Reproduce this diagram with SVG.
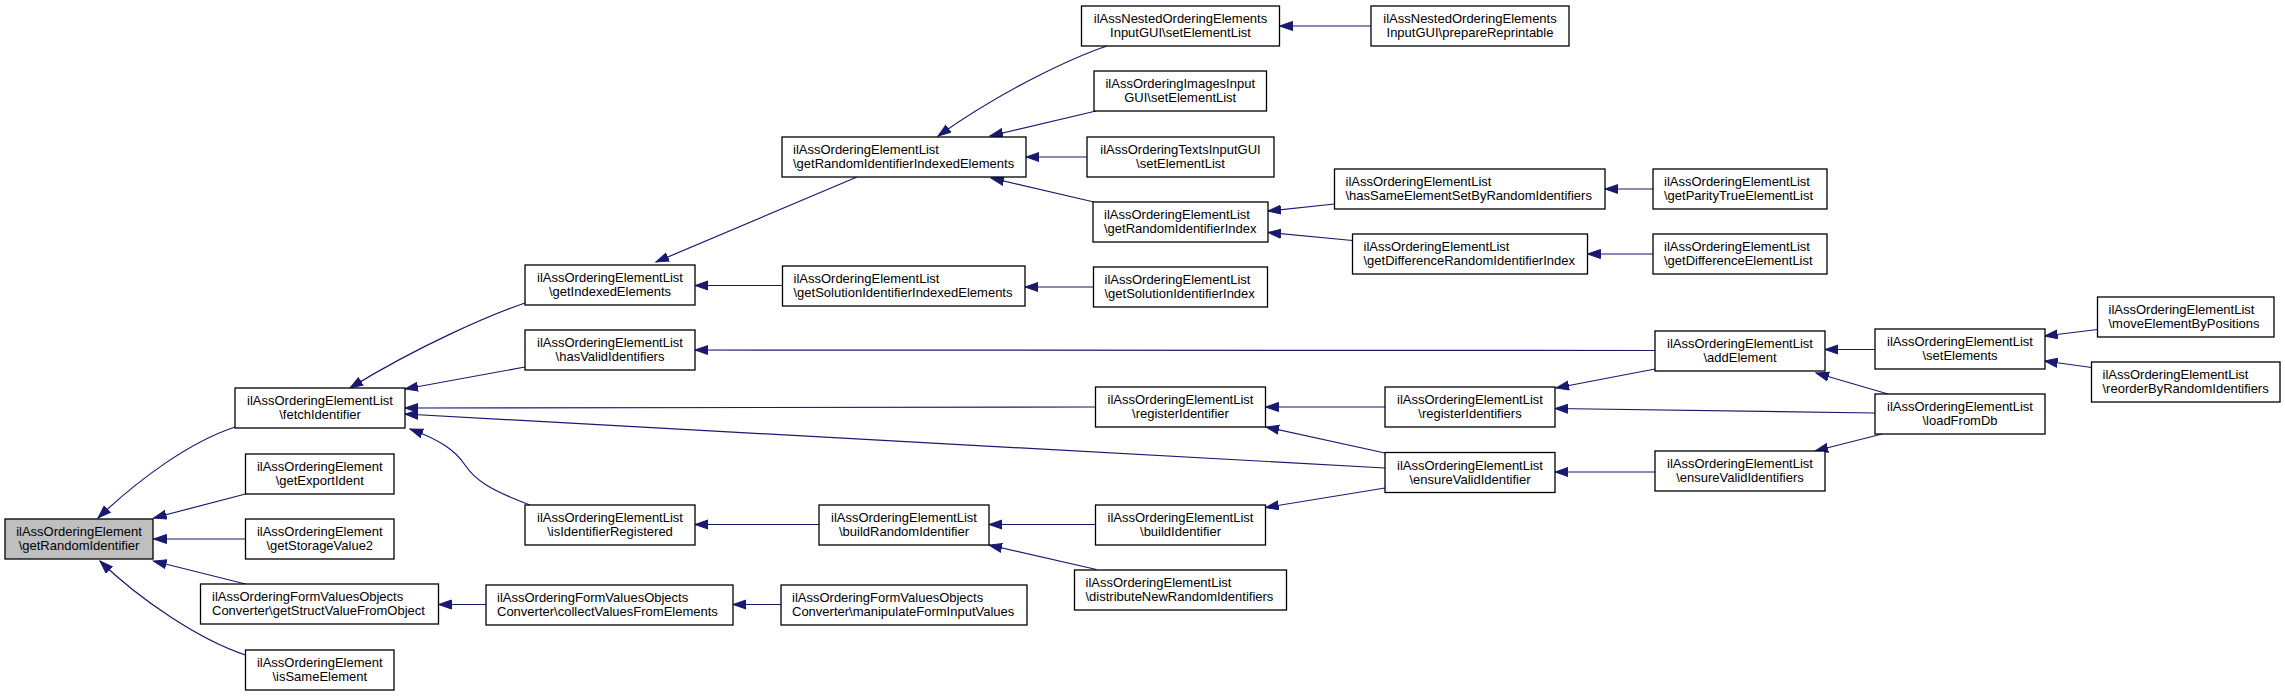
<svg xmlns="http://www.w3.org/2000/svg" width="2285" height="696" viewBox="0 0 2285 696">
<style>
.n rect{fill:#ffffff;stroke:#000000;stroke-width:1.3}
.n.sel rect{fill:#bfbfbf}
.n text{font-family:"Liberation Sans",Arial,sans-serif;font-size:13px;fill:#000000}
.c text{text-anchor:middle}
.l text{text-anchor:start}
#edges path{fill:none;stroke:#191970;stroke-width:1.2;marker-end:url(#a)}
</style>
<defs>
<marker id="a" markerWidth="15" markerHeight="11" refX="13" refY="5" orient="auto" markerUnits="userSpaceOnUse">
<path d="M0,0.5 L13,5 L0,9.5 z" fill="#191970" stroke="#191970" stroke-width="1"/>
</marker>
</defs>
<rect x="0" y="0" width="2285" height="696" fill="#ffffff"/>
<g id="edges">
<path d="M235,427 C190,442 140,478 98,518"/>
<path d="M245.5,494 L153.5,518"/>
<path d="M245.5,539 L153.5,539"/>
<path d="M245.5,584 L153.5,561"/>
<path d="M245.5,655 C200,640 140,600 100,561"/>
<path d="M525,303 C490,315 420,345 350,388"/>
<path d="M525,367 L405,389"/>
<path d="M1095.5,407 L405,408"/>
<path d="M1385,468 L405,414"/>
<path d="M530,505 C490,490 475,480 465,465 C455,450 440,440 410,429"/>
<path d="M857,177 L656,262"/>
<path d="M782.5,285.5 L695,285.5"/>
<path d="M1655,350.5 L695,350"/>
<path d="M1107,46 C1080,55 1010,85 938,136"/>
<path d="M1096,111 L990,136"/>
<path d="M1087,157 L1026,157"/>
<path d="M1094,202 L991,178"/>
<path d="M1093.5,287 L1025,287"/>
<path d="M1371,26 L1279.5,26"/>
<path d="M1334.5,204 L1268,211"/>
<path d="M1352.5,240.5 L1268,232.5"/>
<path d="M1653,189 L1605,189"/>
<path d="M1653,254 L1587.5,254"/>
<path d="M819,524.5 L695,524.5"/>
<path d="M1095.5,524.5 L989,524.5"/>
<path d="M1096.5,569.5 L989,545"/>
<path d="M1385,488 L1265.5,507.5"/>
<path d="M1385,453 L1266,427"/>
<path d="M1385,407 L1265.5,407"/>
<path d="M781,604.5 L733,604.5"/>
<path d="M486,604.5 L438.5,604.5"/>
<path d="M1655,369 L1556,388"/>
<path d="M1875,413 L1555,408.5"/>
<path d="M1655,472 L1555,472"/>
<path d="M1882,434 L1815,451"/>
<path d="M1875,349.5 L1825,349.5"/>
<path d="M1888,394 L1816,373"/>
<path d="M2097.5,329.5 L2044.5,336"/>
<path d="M2091.5,367.5 L2044.5,361"/>
</g>
<g id="n1" class="n c sel"><rect x="5" y="519" width="148" height="40"/><text x="79" y="536">ilAssOrderingElement</text><text x="79" y="550">\getRandomIdentifier</text></g>
<g id="n2" class="n c"><rect x="235" y="388" width="170" height="40"/><text x="320" y="405">ilAssOrderingElementList</text><text x="320" y="419">\fetchIdentifier</text></g>
<g id="n3" class="n c"><rect x="245.5" y="454" width="148.5" height="40"/><text x="319.75" y="471">ilAssOrderingElement</text><text x="319.75" y="485">\getExportIdent</text></g>
<g id="n4" class="n c"><rect x="245.5" y="519" width="148.5" height="40"/><text x="319.75" y="536">ilAssOrderingElement</text><text x="319.75" y="550">\getStorageValue2</text></g>
<g id="n5" class="n l"><rect x="200.5" y="584" width="238" height="40"/><text x="212" y="601">ilAssOrderingFormValuesObjects</text><text x="212" y="615">Converter\getStructValueFromObject</text></g>
<g id="n6" class="n c"><rect x="245.5" y="650" width="148.5" height="40"/><text x="319.75" y="667">ilAssOrderingElement</text><text x="319.75" y="681">\isSameElement</text></g>
<g id="n7" class="n c"><rect x="525" y="265" width="170" height="40"/><text x="610" y="282">ilAssOrderingElementList</text><text x="610" y="296">\getIndexedElements</text></g>
<g id="n8" class="n c"><rect x="525" y="330" width="170" height="40"/><text x="610" y="347">ilAssOrderingElementList</text><text x="610" y="361">\hasValidIdentifiers</text></g>
<g id="n9" class="n c"><rect x="525" y="505" width="170" height="40"/><text x="610" y="522">ilAssOrderingElementList</text><text x="610" y="536">\isIdentifierRegistered</text></g>
<g id="n10" class="n l"><rect x="486" y="585" width="247" height="40"/><text x="497" y="602">ilAssOrderingFormValuesObjects</text><text x="497" y="616">Converter\collectValuesFromElements</text></g>
<g id="n11" class="n l"><rect x="782" y="137" width="244" height="40"/><text x="793" y="154">ilAssOrderingElementList</text><text x="793" y="168">\getRandomIdentifierIndexedElements</text></g>
<g id="n12" class="n l"><rect x="782.5" y="266" width="242.5" height="40"/><text x="793.5" y="283">ilAssOrderingElementList</text><text x="793.5" y="297">\getSolutionIdentifierIndexedElements</text></g>
<g id="n13" class="n c"><rect x="819" y="505" width="170" height="40"/><text x="904" y="522">ilAssOrderingElementList</text><text x="904" y="536">\buildRandomIdentifier</text></g>
<g id="n14" class="n l"><rect x="781" y="585" width="246" height="40"/><text x="792" y="602">ilAssOrderingFormValuesObjects</text><text x="792" y="616">Converter\manipulateFormInputValues</text></g>
<g id="n15" class="n c"><rect x="1081.5" y="6" width="198" height="40"/><text x="1180.5" y="23">ilAssNestedOrderingElements</text><text x="1180.5" y="37">InputGUI\setElementList</text></g>
<g id="n16" class="n c"><rect x="1094" y="71" width="172.5" height="40"/><text x="1180.25" y="88">ilAssOrderingImagesInput</text><text x="1180.25" y="102">GUI\setElementList</text></g>
<g id="n17" class="n c"><rect x="1087" y="137" width="187" height="40"/><text x="1180.5" y="154">ilAssOrderingTextsInputGUI</text><text x="1180.5" y="168">\setElementList</text></g>
<g id="n18" class="n l"><rect x="1093" y="202" width="175" height="40"/><text x="1104" y="219">ilAssOrderingElementList</text><text x="1104" y="233">\getRandomIdentifierIndex</text></g>
<g id="n19" class="n l"><rect x="1093.5" y="267" width="174" height="40"/><text x="1104.5" y="284">ilAssOrderingElementList</text><text x="1104.5" y="298">\getSolutionIdentifierIndex</text></g>
<g id="n20" class="n c"><rect x="1095.5" y="387" width="170" height="40"/><text x="1180.5" y="404">ilAssOrderingElementList</text><text x="1180.5" y="418">\registerIdentifier</text></g>
<g id="n21" class="n c"><rect x="1095.5" y="505" width="170" height="40"/><text x="1180.5" y="522">ilAssOrderingElementList</text><text x="1180.5" y="536">\buildIdentifier</text></g>
<g id="n22" class="n l"><rect x="1074.5" y="570" width="212" height="40"/><text x="1085.5" y="587">ilAssOrderingElementList</text><text x="1085.5" y="601">\distributeNewRandomIdentifiers</text></g>
<g id="n23" class="n c"><rect x="1371" y="6" width="198" height="40"/><text x="1470" y="23">ilAssNestedOrderingElements</text><text x="1470" y="37">InputGUI\prepareReprintable</text></g>
<g id="n24" class="n l"><rect x="1334.5" y="169" width="270.5" height="40"/><text x="1345.5" y="186">ilAssOrderingElementList</text><text x="1345.5" y="200">\hasSameElementSetByRandomIdentifiers</text></g>
<g id="n25" class="n l"><rect x="1352.5" y="234" width="235" height="40"/><text x="1363.5" y="251">ilAssOrderingElementList</text><text x="1363.5" y="265">\getDifferenceRandomIdentifierIndex</text></g>
<g id="n26" class="n c"><rect x="1385" y="387" width="170" height="40"/><text x="1470" y="404">ilAssOrderingElementList</text><text x="1470" y="418">\registerIdentifiers</text></g>
<g id="n27" class="n c"><rect x="1385" y="452.5" width="170" height="40"/><text x="1470" y="469.5">ilAssOrderingElementList</text><text x="1470" y="483.5">\ensureValidIdentifier</text></g>
<g id="n28" class="n c"><rect x="1655" y="331" width="170" height="40"/><text x="1740" y="348">ilAssOrderingElementList</text><text x="1740" y="362">\addElement</text></g>
<g id="n29" class="n c"><rect x="1655" y="451" width="170" height="40"/><text x="1740" y="468">ilAssOrderingElementList</text><text x="1740" y="482">\ensureValidIdentifiers</text></g>
<g id="n30" class="n l"><rect x="1653" y="169" width="174" height="40"/><text x="1664" y="186">ilAssOrderingElementList</text><text x="1664" y="200">\getParityTrueElementList</text></g>
<g id="n31" class="n l"><rect x="1653" y="234" width="174" height="40"/><text x="1664" y="251">ilAssOrderingElementList</text><text x="1664" y="265">\getDifferenceElementList</text></g>
<g id="n32" class="n c"><rect x="1875" y="329" width="170" height="40"/><text x="1960" y="346">ilAssOrderingElementList</text><text x="1960" y="360">\setElements</text></g>
<g id="n33" class="n c"><rect x="1875" y="394" width="170" height="40"/><text x="1960" y="411">ilAssOrderingElementList</text><text x="1960" y="425">\loadFromDb</text></g>
<g id="n34" class="n l"><rect x="2097.5" y="297" width="176.5" height="40"/><text x="2108.5" y="314">ilAssOrderingElementList</text><text x="2108.5" y="328">\moveElementByPositions</text></g>
<g id="n35" class="n l"><rect x="2091.5" y="362" width="188.5" height="40"/><text x="2102.5" y="379">ilAssOrderingElementList</text><text x="2102.5" y="393">\reorderByRandomIdentifiers</text></g>
</svg>
